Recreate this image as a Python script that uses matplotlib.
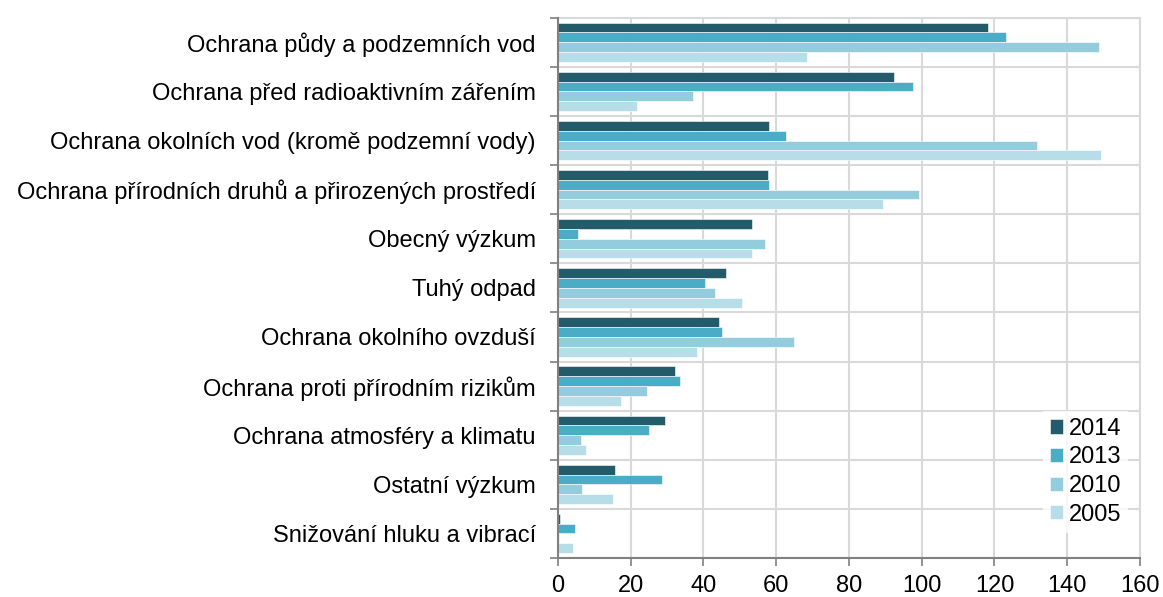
import numpy as np
import matplotlib.pyplot as plt

plt.rcParams['font.family'] = ['Liberation Sans', 'DejaVu Sans']

categories = [
    'Ochrana půdy a podzemních vod',
    'Ochrana před radioaktivním zářením',
    'Ochrana okolních vod (kromě podzemní vody)',
    'Ochrana přírodních druhů a přirozených prostředí',
    'Obecný výzkum',
    'Tuhý odpad',
    'Ochrana okolního ovzduší',
    'Ochrana proti přírodním rizikům',
    'Ochrana atmosféry a klimatu',
    'Ostatní výzkum',
    'Snižování hluku a vibrací',
]
years = ['2014', '2013', '2010', '2005']
v2014 = [118.1, 92.4, 58.0, 57.6, 53.4, 46.3, 44.2, 32.2, 29.5, 15.6, 0.5]
v2013 = [123.2, 97.7, 62.7, 57.9, 5.6, 40.4, 45.2, 33.5, 24.9, 28.7, 4.7]
v2010 = [148.7, 37.0, 131.7, 99.3, 56.8, 43.1, 64.9, 24.5, 6.3, 6.5, 0.4]
v2005 = [68.5, 21.8, 149.4, 89.3, 53.2, 50.5, 38.2, 17.3, 7.7, 15.0, 4.2]
colors = ['#235B6B', '#4BACC6', '#93CDDD', '#B7DEE8']

fig = plt.figure(figsize=(11.63, 5.97), dpi=100)
ax = fig.add_axes([0.4798, 0.0653, 0.5004, 0.905])

y = np.arange(len(categories))
h = 0.2
for i, (vals, yr) in enumerate(zip([v2014, v2013, v2010, v2005], years)):
    ax.barh(y - 0.3 + i * h, vals, height=h, color=colors[i], edgecolor='white',
            linewidth=0.4, label=yr, zorder=3)

ax.set_xlim(0, 160)
ax.set_ylim(len(categories) - 0.5, -0.5)
ax.set_xticks(np.arange(0, 161, 20))
ax.set_yticks(np.arange(-0.5, len(categories), 1), minor=False)
ax.set_yticklabels([])
ax.set_yticks(y, minor=True)
ax.set_yticklabels(categories, minor=True)
ax.tick_params(axis='y', which='minor', length=0, labelsize=17, pad=16)
ax.tick_params(axis='y', which='major', length=6, color='#808080', width=1.2)
ax.tick_params(axis='x', length=6, color='#808080', width=1.2, labelsize=17, pad=6)

ax.grid(True, which='major', color='#D9D9D9', linewidth=1.5, zorder=0)
for s in ['top', 'right']:
    ax.spines[s].set_color('#D9D9D9')
    ax.spines[s].set_linewidth(1.5)
for s in ['left', 'bottom']:
    ax.spines[s].set_color('#808080')
    ax.spines[s].set_linewidth(1.5)
    ax.spines[s].set_zorder(4)

leg = ax.legend(loc='lower right', bbox_to_anchor=(1.0, 0.025), frameon=True,
                fontsize=17, handlelength=0.55, handleheight=0.55,
                handletextpad=0.25, labelspacing=0.28, borderpad=0.3, fancybox=False)
leg.get_frame().set_edgecolor('white')
leg.get_frame().set_linewidth(0)

fig.savefig('out.png', dpi=100)
